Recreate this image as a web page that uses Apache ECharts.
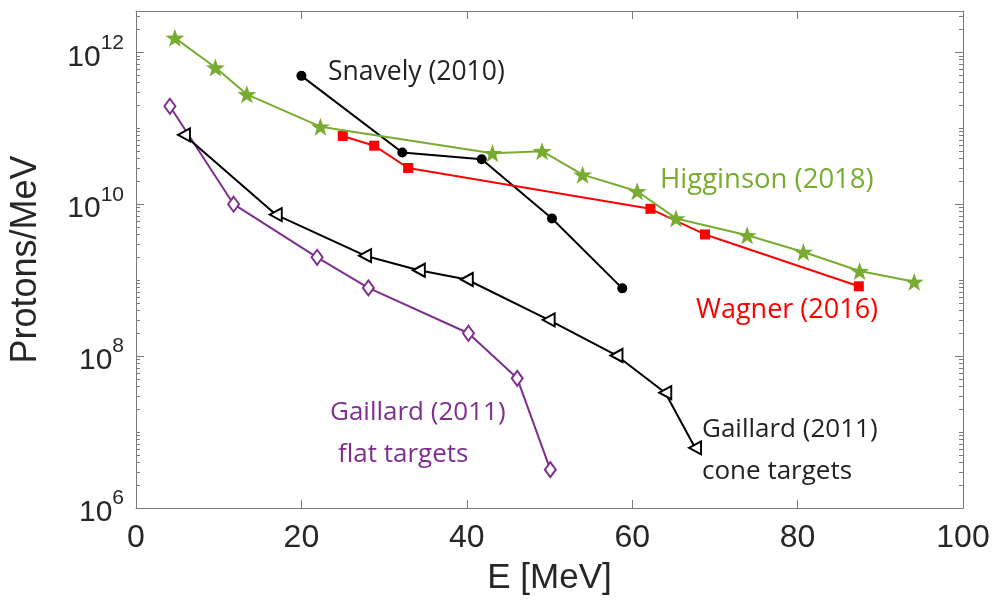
<!DOCTYPE html>
<html>
<head>
<meta charset="utf-8">
<script src="https://cdn.jsdelivr.net/npm/echarts@6/dist/echarts.min.js"></script>
<style>
html,body{margin:0;padding:0;background:#fff;}
#chart{width:993px;height:602px;}
</style>
</head>
<body>
<div id="chart"></div>
<script>
// ---- data ----
const higginsonE = [4.7, 9.6, 13.4, 22.3, 43.1, 49.1, 54.0, 60.6, 65.3, 73.9, 80.7, 87.5, 94.1];
const higginsonN = [1.55e12, 6.3e11, 2.8e11, 1.05e11, 4.7e10, 5.0e10, 2.45e10, 1.48e10, 6.5e9, 3.9e9, 2.35e9, 1.32e9, 9.5e8];
const wagnerE = [25.0, 28.8, 32.9, 62.2, 68.8, 87.4];
const wagnerN = [7.9e10, 5.9e10, 3.0e10, 8.7e9, 4.0e9, 8.3e8];
const snavelyE = [20.0, 32.2, 41.8, 50.3, 58.8];
const snavelyN = [4.9e11, 4.8e10, 3.9e10, 6.5e9, 7.8e8];
const coneE = [5.8, 16.9, 27.7, 34.2, 40.0, 49.9, 58.1, 64.0, 67.6];
const coneN = [8.2e10, 7.3e9, 2.1e9, 1.35e9, 1.02e9, 3.0e8, 1.02e8, 3.3e7, 6.2e6];
const flatE = [4.1, 11.8, 21.9, 28.1, 40.2, 46.1, 50.1];
const flatN = [1.95e11, 1.0e10, 2.0e9, 7.9e8, 2.0e8, 5.1e7, 3.2e6];

const xTicks = [0, 20, 40, 60, 80, 100];
const yMajorTicks = [1e6, 1e8, 1e10, 1e12];
const yMinorTicks = [];
for (let n = 6; n <= 12; n++) {
  for (let k = 1; k <= 9; k++) {
    const v = k * Math.pow(10, n);
    if (yMajorTicks.indexOf(v) < 0 && v < 3.5e12) yMinorTicks.push(v);
  }
}

const zip = (xs, ys) => xs.map((x, i) => [x, ys[i]]);

const AX = '#7a7a7a';
const TXT = '#262626';
const STAR = 'path://M0,-10 L2.35,-3.24 L9.51,-3.09 L3.8,1.24 L5.88,8.09 L0,4 L-5.88,8.09 L-3.8,1.24 L-9.51,-3.09 L-2.35,-3.24 Z';

const chart = echarts.init(document.getElementById('chart'), null, {renderer: 'canvas'});

function yAxisDef(pos, ticks, len, withLabels, withLine) {
  return {
    type: 'log', logBase: 10, min: 1e6, max: 3.5e12, position: pos,
    axisLine: {show: withLine, lineStyle: {color: AX, width: 1}},
    axisTick: {show: true, inside: true, length: len, customValues: ticks, lineStyle: {color: AX, width: 1}},
    splitLine: {show: false},
    minorTick: {show: false},
    axisLabel: withLabels ? {
      show: true, customValues: yMajorTicks, margin: 12,
      formatter: v => '{b|10}{s|' + Math.round(Math.log10(v)) + '}',
      rich: {
        b: {fontFamily: 'Liberation Sans', fontSize: 30, color: TXT, lineHeight: 40, verticalAlign: 'bottom'},
        s: {fontFamily: 'Liberation Sans', fontSize: 21, color: TXT, lineHeight: 22, verticalAlign: 'top'}
      }
    } : {show: false},
    name: withLabels ? 'Protons/MeV' : '',
    nameLocation: 'middle', nameGap: 92, nameRotate: 90,
    nameTextStyle: {fontFamily: 'Liberation Sans', fontSize: 36, color: TXT}
  };
}

const option = {
  animation: false,
  backgroundColor: '#fff',
  grid: {left: 132, right: 30, top: 11, bottom: 94, containLabel: false},
  xAxis: [
    {
      type: 'value', min: 0, max: 100, interval: 20, position: 'bottom',
      axisLine: {show: true, lineStyle: {color: AX, width: 1}},
      axisTick: {show: true, inside: true, length: 8, lineStyle: {color: AX}},
      splitLine: {show: false},
      axisLabel: {fontFamily: 'Liberation Sans', fontSize: 32, color: TXT, margin: 14},
      name: 'E [MeV]', nameLocation: 'middle', nameGap: 53,
      nameTextStyle: {fontFamily: 'Liberation Sans', fontSize: 35, color: TXT, verticalAlign: 'top'}
    },
    {
      type: 'value', min: 0, max: 100, interval: 20, position: 'top',
      axisLine: {show: true, lineStyle: {color: AX, width: 1}},
      axisTick: {show: true, inside: true, length: 8, lineStyle: {color: AX}},
      splitLine: {show: false},
      axisLabel: {show: false}
    }
  ],
  yAxis: [
    yAxisDef('left', yMajorTicks, 8, true, true),
    yAxisDef('left', yMinorTicks, 4, false, false),
    yAxisDef('right', yMajorTicks, 8, false, true),
    yAxisDef('right', yMinorTicks, 4, false, false)
  ],
  series: [
    {
      name: 'Gaillard flat', type: 'line', data: zip(flatE, flatN),
      symbol: 'diamond', symbolSize: [11, 15],
      lineStyle: {color: '#7E2F8E', width: 2},
      itemStyle: {color: '#ffffff', borderColor: '#7E2F8E', borderWidth: 2},
      z: 2
    },
    {
      name: 'Gaillard cone', type: 'line', data: zip(coneE, coneN),
      symbol: 'triangle', symbolRotate: 90, symbolSize: [13, 12],
      lineStyle: {color: '#000', width: 2},
      itemStyle: {color: '#ffffff', borderColor: '#000', borderWidth: 2},
      z: 3
    },
    {
      name: 'Snavely', type: 'line', data: zip(snavelyE, snavelyN),
      symbol: 'circle', symbolSize: 10,
      lineStyle: {color: '#000', width: 2},
      itemStyle: {color: '#000', borderWidth: 0},
      z: 4
    },
    {
      name: 'Wagner', type: 'line', data: zip(wagnerE, wagnerN),
      symbol: 'rect', symbolSize: 10,
      lineStyle: {color: '#FF0000', width: 2},
      itemStyle: {color: '#FF0000', borderWidth: 0},
      z: 5
    },
    {
      name: 'Higginson', type: 'line', data: zip(higginsonE, higginsonN),
      symbol: STAR, symbolSize: [19, 18],
      lineStyle: {color: '#77AC30', width: 2},
      itemStyle: {color: '#77AC30', borderWidth: 0},
      z: 6
    }
  ],
  graphic: [
    {type: 'text', left: 328, top: 59, style: {text: 'Snavely (2010)', font: '26.5px "Open Sans"', fill: '#222'}},
    {type: 'text', left: 660, top: 166, style: {text: 'Higginson (2018)', font: '27.5px "Open Sans"', fill: '#77AC30'}},
    {type: 'text', left: 696, top: 297, style: {text: 'Wagner (2016)', font: '27px "Open Sans"', fill: '#FF0000'}},
    {type: 'text', left: 330, top: 400, style: {text: 'Gaillard (2011)', font: '26px "Open Sans"', fill: '#7E2F8E'}},
    {type: 'text', left: 338, top: 442, style: {text: 'flat targets', font: '26px "Open Sans"', fill: '#7E2F8E'}},
    {type: 'text', left: 702, top: 417, style: {text: 'Gaillard (2011)', font: '26px "Open Sans"', fill: '#222'}},
    {type: 'text', left: 702, top: 459, style: {text: 'cone targets', font: '26px "Open Sans"', fill: '#222'}}
  ]
};
chart.setOption(option);
</script>
</body>
</html>
